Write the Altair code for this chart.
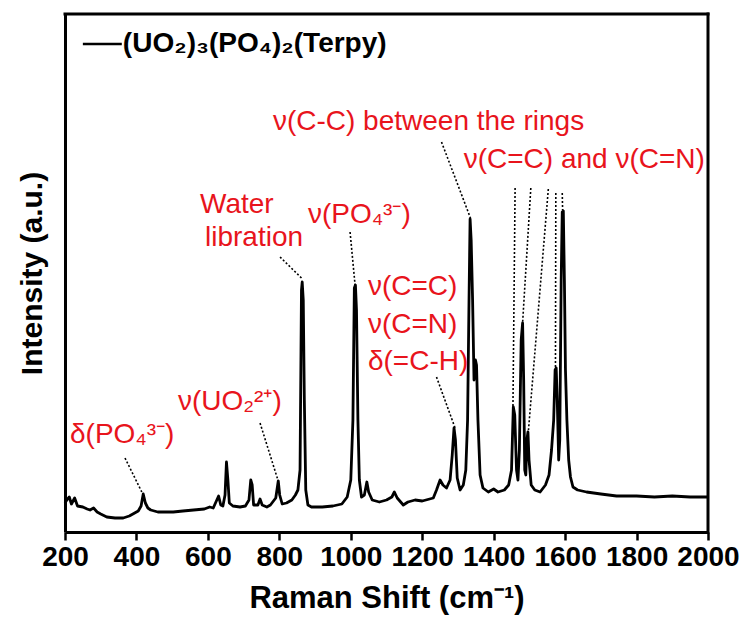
import altair as alt
import pandas as pd

# Raman spectrum (wavenumber in cm-1, intensity in arbitrary units)
wavenumber = [200, 205, 212, 218, 227, 235, 250, 262, 270, 280, 290, 300, 317, 340, 363, 380, 395, 405, 413, 419,
              425, 432, 440, 460, 480, 503, 530, 560, 590, 605, 615, 625, 630, 636, 642, 648, 652, 656, 660, 670,
              690, 705, 715, 720, 724, 728, 740, 746, 752, 765, 775, 790, 797, 801, 808, 820, 835, 845, 852, 858,
              862, 864, 867, 870, 874, 880, 890, 920, 950, 975, 990, 1000, 1006, 1010, 1013, 1016, 1020, 1024, 1030, 1038,
              1045, 1050, 1060, 1080, 1100, 1115, 1122, 1130, 1147, 1160, 1180, 1200, 1231, 1240, 1250, 1258, 1268, 1278, 1284, 1289,
              1293, 1298, 1306, 1315, 1322, 1327, 1331, 1334, 1337, 1341, 1345, 1349, 1352, 1356, 1362, 1370, 1385, 1400, 1412, 1430,
              1442, 1450, 1455, 1459, 1464, 1468, 1472, 1477, 1481, 1484, 1487, 1490, 1493, 1496, 1499, 1505, 1515, 1530, 1545, 1555,
              1562, 1568, 1572, 1575, 1578, 1582, 1585, 1589, 1592, 1595, 1598, 1601, 1605, 1610, 1615, 1622, 1635, 1660, 1700, 1744,
              1800, 1850, 1900, 1950, 2000]
intensity = [29, 32, 35, 28, 34, 26, 25, 23, 22, 24, 20, 18, 15, 14, 14, 16, 19, 21, 26, 38,
             29, 24, 22, 20, 20, 20, 21, 22, 23, 25, 24, 32, 36, 27, 26, 37, 70, 52, 29, 26,
             25, 26, 32, 52, 47, 27, 27, 33, 27, 25, 27, 34, 51, 37, 28, 29, 32, 37, 42, 62,
             242, 250, 232, 132, 42, 27, 25, 25, 26, 28, 35, 52, 112, 244, 247, 222, 112, 52, 35, 37,
             50, 40, 32, 30, 32, 35, 40, 34, 27, 30, 32, 31, 34, 42, 52, 47, 44, 52, 77, 104,
             92, 54, 42, 47, 62, 112, 232, 313, 292, 232, 152, 172, 167, 112, 57, 44, 40, 43, 40, 42,
             47, 62, 125, 117, 62, 52, 82, 192, 209, 152, 62, 57, 92, 100, 72, 47, 42, 40, 47, 57,
             82, 112, 162, 164, 132, 72, 92, 252, 320, 321, 252, 162, 112, 72, 55, 45, 42, 40, 38, 36,
             36, 35, 36, 35, 35]

x_ticks = [200, 400, 600, 800, 1000, 1200, 1400, 1600, 1800, 2000]

# Red annotations (left aligned)
ann_text = ["\u03b4(PO\u2084\u00b3\u207b)", "\u03bd(UO\u2082\u00b2\u207a)", "\u03bd(PO\u2084\u00b3\u207b)",
            "\u03bd(C=C)", "\u03bd(C=N)", "\u03b4(=C-H)",
            "\u03bd(C-C) between the rings", "\u03bd(C=C) and \u03bd(C=N)",
            "Water", "libration"]
ann_x = [214, 516, 880, 1048, 1048, 1048, 782, 1316, 578, 592]
ann_y = [97, 130, 317, 245, 207, 170, 410, 372, 327, 294]

# Dotted leader lines
lead_x1 = [368, 746, 802, 998, 1240, 1254, 1460, 1504, 1553, 1574, 1592]
lead_y1 = [74, 109, 275, 300, 155, 390, 344, 344, 343, 339, 339]
lead_x2 = [415, 796, 862, 1012, 1292, 1335, 1454, 1481, 1497, 1573, 1593]
lead_y2 = [40, 52, 254, 247, 104, 314, 125, 209, 100, 165, 322]

legend_label = "(UO\u2082)\u2083(PO\u2084)\u2082(Terpy)"
legend_line_x = [250, 359]
legend_y = 488
legend_text_x = 362

FONT = "Liberation Sans"
RED = "#e8141c"
W, H = 643, 518

spec = pd.DataFrame({"wn": wavenumber, "I": intensity})
ann = pd.DataFrame({"x": ann_x, "y": ann_y, "t": ann_text})
leads = pd.DataFrame({"x": lead_x1, "y": lead_y1, "x2": lead_x2, "y2": lead_y2})
leg_line = pd.DataFrame({"x": [legend_line_x[0]], "x2": [legend_line_x[1]], "y": [legend_y]})
leg_text = pd.DataFrame({"x": [legend_text_x], "y": [legend_y], "t": [legend_label]})

xscale = alt.Scale(domain=[200, 2000], nice=False, zero=False)
yscale = alt.Scale(domain=[0, 518], nice=False, zero=False)

line = alt.Chart(spec).mark_line(color="black", strokeWidth=2.8, strokeJoin="round").encode(
    x=alt.X("wn:Q", scale=xscale, title="Raman Shift (cm\u207b\u00b9)",
            axis=alt.Axis(values=x_ticks, format="d", grid=False, tickSize=8, tickWidth=2.5, domainWidth=3,
                          domainColor="black", tickColor="black", labelFontSize=28, labelFont=FONT,
                          labelFontWeight="bold", labelColor="black", labelPadding=3, labelFlush=False,
                          labelOverlap=False,
                          titleFontSize=31, titleFont=FONT, titleFontWeight="bold", titleColor="black",
                          titlePadding=12)),
    y=alt.Y("I:Q", scale=yscale, title="Intensity (a.u.)",
            axis=alt.Axis(labels=False, ticks=False, grid=False, domainWidth=3, domainColor="black",
                          titleFontSize=30, titleFont=FONT, titleFontWeight="bold", titleColor="black",
                          titlePadding=18)),
)

# frame: top and right edges of the plot box
frame_top = alt.Chart().mark_rule(color="black", strokeWidth=3, strokeCap="square").encode(
    x=alt.value(0), x2=alt.value(W), y=alt.value(0))
frame_right = alt.Chart().mark_rule(color="black", strokeWidth=3, strokeCap="square").encode(
    x=alt.value(W), y=alt.value(0), y2=alt.value(H))

rules = alt.Chart(leads).mark_rule(color="black", strokeWidth=1.6, strokeDash=[2, 2]).encode(
    x="x:Q", y="y:Q", x2="x2:Q", y2="y2:Q")

texts = alt.Chart(ann).mark_text(color=RED, font=FONT, fontSize=28, align="left", baseline="middle").encode(
    x="x:Q", y="y:Q", text="t:N")

lline = alt.Chart(leg_line).mark_rule(color="black", strokeWidth=2.5).encode(x="x:Q", x2="x2:Q", y="y:Q")
ltext = alt.Chart(leg_text).mark_text(color="black", font=FONT, fontSize=28, fontWeight="bold",
                                      align="left", baseline="middle").encode(x="x:Q", y="y:Q", text="t:N")

chart = alt.layer(line, rules, texts, lline, ltext, frame_top, frame_right).properties(
    width=W, height=H,
    autosize=alt.AutoSizeParams(type="none"),
    padding={"left": 65, "top": 14, "right": 36, "bottom": 89},
).configure(background="white").configure_view(stroke=None)

chart.save("out.html", embed_options={"renderer": "svg", "actions": False})
